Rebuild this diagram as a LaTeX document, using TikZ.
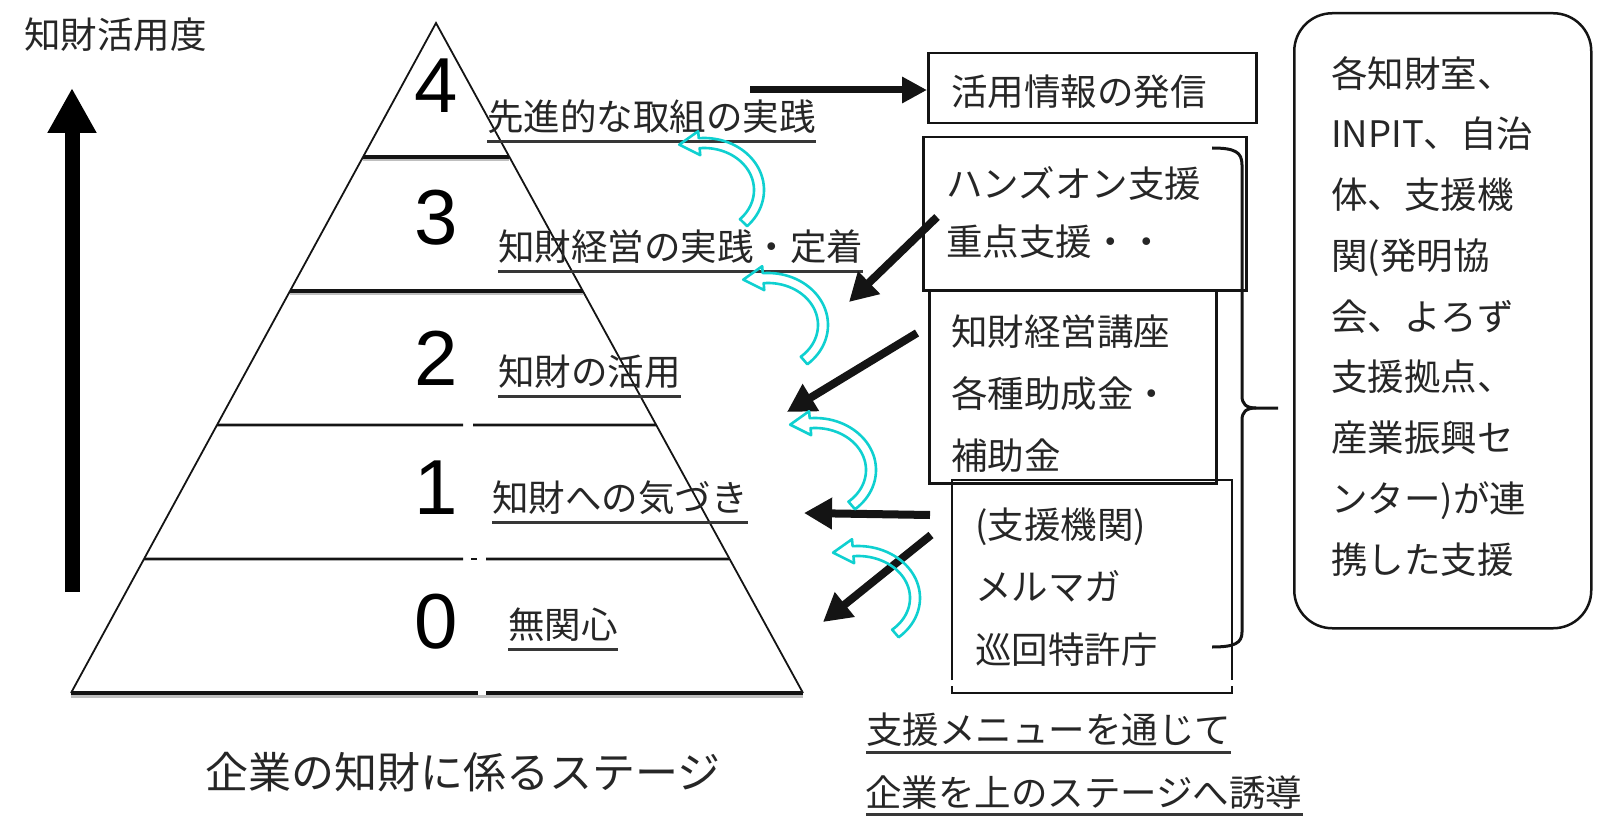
\documentclass[tikz,border=0pt]{standalone}
\usepackage{fontspec}
\newfontfamily\jp{Noto Sans CJK JP}
\newfontfamily\numf{Liberation Sans}
\usetikzlibrary{arrows.meta,calc}
\definecolor{cy}{RGB}{15,208,208}
\definecolor{txt}{RGB}{38,38,38}
\definecolor{ln}{RGB}{20,20,20}
\newcommand\jst{\rule[-0.12em]{0pt}{1em}}
% cyan hollow curved arrow: cx, cy, rx, ry, start angle, end angle
\newcommand\cyarrow[6]{%
  \pgfmathsetmacro\ctx{#3*sin(#6)}%
  \pgfmathsetmacro\cty{-#4*cos(#6)}%
  \pgfmathsetmacro\ctn{sqrt(\ctx*\ctx+\cty*\cty)}%
  \pgfmathsetmacro\cbx{#1+#3*cos(#6)}%
  \pgfmathsetmacro\cby{#2+#4*sin(#6)}%
  \pgfmathsetmacro\cpx{\cbx+20*\ctx/\ctn}%
  \pgfmathsetmacro\cpy{\cby+20*\cty/\ctn}%
  \draw[cyarr] plot[domain=#5:#6, samples=40] ({#1+(#3+5)*cos(\x)},{#2+(#4+5)*sin(\x)})
    -- ({#1+(#3+12)*cos(#6)},{#2+(#4+12)*sin(#6)}) -- (\cpx,\cpy)
    -- ({#1+(#3-12)*cos(#6)},{#2+(#4-12)*sin(#6)})
    -- plot[domain=#6:#5, samples=40] ({#1+(#3-5)*cos(\x)},{#2+(#4-5)*sin(\x)}) -- cycle;
}
\begin{document}
\begin{tikzpicture}[x=1pt,y=-1pt,
  jt/.style={font=\jp\fontsize{36.5}{36.5}\selectfont, text=txt, inner sep=0pt,
             text height=32pt, text depth=4.4pt, anchor=west},
  jm/.style={font=\jp\fontsize{36.5}{#1}\selectfont, text=txt, inner sep=0pt,
             align=left, anchor=north west},
  num/.style={font=\numf\fontsize{78}{78}\selectfont, text=black, inner sep=0pt},
  lvl/.style={draw=ln, line width=3.2pt},
  shd/.style={draw=black!25, line width=3pt},
  edge/.style={draw=ln, line width=1.8pt},
  ul/.style={draw=ln!85, line width=3pt},
  boxs/.style={draw=ln, line width=2.5pt, inner sep=0pt},
  barrow/.style={draw=ln, line width=8pt, -{Triangle[length=28pt, width=30pt]}},
  cyarr/.style={draw=cy, line width=2.6pt, line join=round}
]
\useasboundingbox (0,0) rectangle (1600,829);

% vertical axis arrow and title
\coordinate (ax0) at (72,592);
\coordinate (ax1) at (72,88);
\draw[draw=black, line width=15pt, -{Triangle[length=45pt, width=46pt]}] (ax0) -- (ax1);
\node[jt] (title) at (24,35) {知財活用度};

% pyramid
\coordinate (A) at (436,23);
\coordinate (BL) at (71,693);
\coordinate (BR) at (803,693);
\draw[shd] ([yshift=-3pt]$(A)!0.2!(BL)$) -- ([yshift=-3pt]$(A)!0.2!(BR)$);
\draw[shd] ([yshift=-3pt]$(A)!0.4!(BL)$) -- ([yshift=-3pt]$(A)!0.4!(BR)$);
\draw[shd] ([yshift=-3pt]BL) -- ([yshift=-3pt]BR);
\draw[edge] (BL) -- (A) -- (BR);
\draw[lvl] ($(A)!0.2!(BL)$) -- ($(A)!0.2!(BR)$);
\draw[lvl] ($(A)!0.4!(BL)$) -- ($(A)!0.4!(BR)$);
\draw[lvl, line width=2.6pt] ($(A)!0.6!(BL)$) -- (463,425);
\draw[lvl, line width=2.6pt] (473,425) -- ($(A)!0.6!(BR)$);
\draw[lvl, line width=2.6pt] ($(A)!0.8!(BL)$) -- (463,559);
\draw[lvl, line width=2.6pt] (471,559) -- (477,559);
\draw[lvl, line width=2.6pt] (486,559) -- ($(A)!0.8!(BR)$);
\draw[lvl, line width=4pt] (BL) -- (478,693);
\draw[lvl, line width=4pt] (486,693) -- (BR);

% level numbers
\node[num] (n4) at (436,86) {4};
\node[num] (n3) at (436,218) {3};
\node[num] (n2) at (436,358) {2};
\node[num] (n1) at (436,488) {1};
\node[num] (n0) at (436,622) {0};

% level labels
\node[jt] (l4) at (487,117) {先進的な取組の実践};
\node[jt] (l3) at (498,247) {知財経営の実践・定着};
\node[jt] (l2) at (498,372) {知財の活用};
\node[jt] (l1) at (492,498) {知財への気づき};
\node[jt] (l0) at (508,625) {無関心};
\foreach \n in {l4,l3,l2,l1,l0}
  \draw[ul] ([yshift=-6pt]\n.south west) -- ([yshift=-6pt]\n.south east);

\node[font=\jp\fontsize{43}{43}\selectfont, text=txt, inner sep=0pt, text height=37.8pt,
      text depth=5.2pt, anchor=west] (cap) at (205,772) {企業の知財に係るステージ};

% boxes
\node[boxs, minimum width=328pt, minimum height=70pt, anchor=north west] (box1) at (927,52) {};
\node[jt] (b1t) at (951,92) {活用情報の発信};
\node[boxs, minimum width=323pt, minimum height=153pt, anchor=north west] (box2) at (922,136) {};
\node[jm=58pt] (b2t) at (946,164.75) {\jst ハンズオン支援\\\jst 重点支援・・};
\node[boxs, minimum width=287pt, minimum height=193pt, anchor=north west] (box3) at (928,289) {};
\node[jm=62pt] (b3t) at (951,312.75) {\jst 知財経営講座\\\jst 各種助成金・\\\jst 補助金};
\draw[draw=ln, line width=2.6pt] (952,680) -- (952,480) -- (1232,480) -- (1232,680);
\draw[draw=ln, line width=2.6pt] (952,686) -- (952,693) -- (1232,693) -- (1232,686);
\node[jm=62.5pt] (b4t) at (975,505.75) {\jst (支援機関)\\\jst メルマガ\\\jst 巡回特許庁};

% brace
\coordinate (brT) at (1212,148);
\coordinate (brB) at (1212,647);
\coordinate (brM) at (1278,408);
\draw[draw=ln, line width=3pt, line join=round]
  (brT) .. controls (1235,148) and (1242,152) .. (1242,165) -- (1242,396)
  .. controls (1242,404) and (1246,408) .. (1256,408) -- (brM);
\draw[draw=ln, line width=3pt, line join=round]
  (1256,408) .. controls (1246,408) and (1242,412) .. (1242,420) -- (1242,632)
  .. controls (1242,643) and (1235,647) .. (brB);

% rounded box
\node[draw=ln, line width=2.5pt, rounded corners=38pt, minimum width=297pt, minimum height=615pt,
      inner sep=0pt, anchor=north west] (org) at (1293,12) {};
\node[jm=60.75pt] (orgt) at (1331,54.75) {\jst 各知財室、\\\jst INPIT、自治\\\jst 体、支援機\\\jst 関(発明協\\\jst 会、よろず\\\jst 支援拠点、\\\jst 産業振興セ\\\jst ンター)が連\\\jst 携した支援};

% bottom text
\node[jt] (m1) at (866,730) {支援メニューを通じて};
\node[jt] (m2) at (865,793) {企業を上のステージへ誘導};
\draw[ul] (866,752) -- (m1.east |- 0,752);
\draw[ul] (866,814) -- (m2.east |- 0,814);

% black arrows
\coordinate (t0) at (750,90);
\draw[barrow, line width=7pt, -{Triangle[length=25pt, width=25pt]}] (t0) -- (box1.west |- t0);
\coordinate (t1) at (937,217); \coordinate (h1) at (849,302);
\coordinate (t2) at (917,333); \coordinate (h2) at (787,412);
\coordinate (t3) at (930,515); \coordinate (h3) at (804,513);
\coordinate (t4) at (931,535); \coordinate (h4) at (823,622);
\draw[barrow] (t1) -- (h1);
\draw[barrow] (t2) -- (h2);
\draw[barrow] (t3) -- (h3);
\draw[barrow] (t4) -- (h4);

% cyan curved arrows
\cyarrow{704}{190}{55}{47}{44}{-95}
\cyarrow{768}{325}{55}{47}{49}{-95}
\cyarrow{815}{470}{56}{47}{49}{-95}
\cyarrow{858}{598}{57}{47}{49}{-95}
\end{tikzpicture}
\end{document}
